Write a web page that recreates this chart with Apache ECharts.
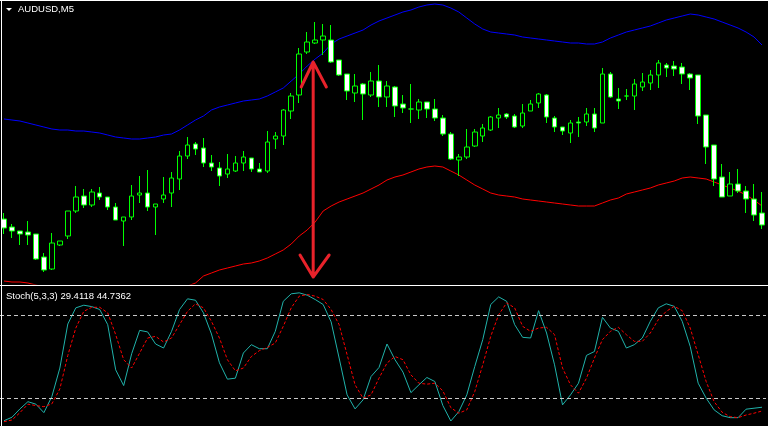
<!DOCTYPE html>
<html>
<head>
<meta charset="utf-8">
<script src="https://cdn.jsdelivr.net/npm/echarts@6/dist/echarts.min.js"></script>
<style>
html,body{margin:0;padding:0;background:#000;}
#c{width:768px;height:426px;}
</style>
</head>
<body>
<div id="c"></div>
<script>
// ---- data (price in points above the panel floor) ----
const categories = [];
for (let i = 0; i < 96; i++) categories.push('bar' + i);

const openV = [65,57,53,52,50,27,15,39,48,73, 88,79,91,87,77,63,67,89,91,77, 85,91,105,128,140,136,121,116,110,113,
  121,126,115,113,145,148,173,189,232,241, 244,244,224,210,191,200,189,203,187,197, 180,175,174,182,175,166,150,124,127,138,
  148,154,166,170,168,158,173,181,189,166, 157,151,162,162,170,161,210,185,188,188, 197,201,209,219,218,217,210,209,169,139,
  107,88,100,93,85,71];
const closeV = [56,53,50,49,25,14,41,43,73,87, 79,92,87,77,64,67,88,91,77,80, 89,106,128,139,135,121,117,108,115,121,
  127,115,112,142,148,174,188,230,242,244, 248,222,209,193,198,190,203,187,198,178, 176,175,182,175,166,150,125,127,137,152,
  156,167,169,167,157,171,180,190,167,157, 153,161,161,170,156,210,187,183,188,200, 202,209,221,216,215,210,206,168,137,105,
  87,100,93,85,69,59];
const lowV = [50,46,39,39,24,12,14,38,45,71, 76,77,84,74,64,38,64,81,73,49, 81,77,94,125,129,117,113,98,106,112,
  113,112,112,111,135,139,165,181,230,240, 229,221,208,184,182,164,187,177,177,167, 171,161,165,166,163,148,124,108,125,137,
  142,153,156,165,156,156,173,176,161,152, 149,141,147,158,152,161,186,175,184,174, 193,194,196,207,208,200,194,160,120,98,
  87,88,91,71,63,55];
const highV = [71,60,53,63,50,31,51,43,73,98, 95,95,97,87,81,67,99,108,114,80, 107,112,133,147,142,146,129,122,130,128,
  133,126,121,153,152,175,191,236,252,262, 260,259,224,210,210,201,212,219,203,198, 189,200,185,182,185,169,152,130,155,155,
  160,168,176,171,170,180,184,191,190,168, 157,164,167,176,176,216,212,196,195,205, 211,214,224,221,223,221,211,209,169,139,
  120,112,115,98,100,92];

const upperBand = [165,164,163,161,159,157,155,154,154,153, 153,152,151,149,147,146,145,145,146,147, 149,150,154,159,164,168,174,177,179,181,
  183,184,185,188,192,196,203,210,218,225, 231,240,245,248,251,254,259,263,266,269, 272,274,277,279,280,279,276,272,266,260,
  255,252,251,250,249,247,246,245,244,243, 242,241,241,240,240,242,246,249,252,254, 256,258,261,264,266,268,270,269,267,265,
  262,259,256,252,247,239];
const lowerBand = [3,2,2,1,-1,-3,-5,-7,-9,-11, -12,-13,-14,-14,-14,-13,-12,-11,-10,-9, -7,-5,-3,-2,1,8,11,14,16,18,
  20,21,23,26,30,34,40,48,54,62, 73,78,82,85,88,91,95,99,104,107, 109,112,115,117,118,117,113,109,104,99,
  95,91,89,88,87,85,84,83,82,81, 80,79,78,78,78,81,84,86,90,92, 94,96,99,101,103,106,107,106,105,102,
  99,96,93,89,84,78];

const stochMain = [3.8,6.3,12.3,17.5,15.7,9.6,21.2,41.7,73.4,85.0, 86.9,85.9,83.8,72.9,40.4,29.1,52.0,68.8,67.7,59.0,
  56.1,68.1,83.8,91.5,90.5,81.4,66.2,45.5,33.7,34.4, 52.5,58.5,55.6,55.6,68.1,89.7,95.1,95.8,94.1,91.0,
  87.4,74.9,48.9,22.4,12.3,18.8,35.6,42.1,59.0,47.7, 38.8,24.0,29.6,34.9,32.0,14.7,3.6,10.3,22.4,42.8,
  62.1,87.4,92.9,89.7,72.9,63.8,63.3,83.0,66.9,44.0, 15.2,22.4,30.8,50.8,53.6,78.2,70.5,68.1,56.1,58.5,
  63.3,75.3,85.0,87.9,86.1,75.3,57.3,30.8,20.0,11.6, 7.4,6.0,6.0,12.1,12.8,13.5];
const stochSignal = [3.1,4.3,9.6,15.7,14.7,13.9,15.9,26.7,50.8,70.5, 82.5,85.4,85.4,81.4,65.7,47.7,41.7,52.5,63.3,64.5,
  60.4,63.3,72.9,82.5,87.9,85.0,75.3,63.3,47.7,39.7, 41.7,50.0,54.2,56.5,59.7,71.7,85.0,93.4,94.6,93.4,
  91.0,83.8,72.9,51.3,29.6,20.0,22.4,34.4,45.3,50.0, 47.7,36.8,30.8,30.1,30.8,25.3,13.2,9.2,11.6,24.8,
  44.0,64.5,80.1,88.6,85.0,71.7,68.1,70.5,71.0,65.7, 41.7,29.6,23.6,34.4,48.9,62.1,68.1,71.0,65.7,60.9,
  60.9,66.9,76.5,82.5,86.1,83.0,70.5,51.3,32.0,17.5, 9.9,6.7,6.0,7.9,9.2,10.8];
const stochLevels = [80, 20];

// annotation arrow (bar index, price points); null = pen up
const arrowPath = [[38.75,222],[38.75,7],null,[37.25,197],[38.75,222],[40.4,197],null,[37.1,29],[38.75,7],[40.75,29]];

const titleMain = 'AUDUSD,M5';
const titleStoch = 'Stoch(5,3,3) 29.4118 44.7362';

// ---- chart ----
const chart = echarts.init(document.getElementById('c'), null, {renderer: 'canvas'});
const candleData = openV.map((o, i) => [o, closeV[i], lowV[i], highV[i]]);
const arrowData = arrowPath.map(p => p ? p : '-');

chart.setOption({
  backgroundColor: '#000',
  animation: false,
  grid: [
    {left: -2, right: 2, top: 0, height: 284},
    {left: -2, right: 2, top: 287, height: 139}
  ],
  xAxis: [
    {type: 'category', gridIndex: 0, data: categories, boundaryGap: true, show: false},
    {type: 'category', gridIndex: 1, data: categories, boundaryGap: true, show: false},
    {type: 'value', gridIndex: 0, min: -0.5, max: 95.5, show: false}
  ],
  yAxis: [
    {type: 'value', gridIndex: 0, min: 0, max: 284, show: false},
    {type: 'value', gridIndex: 1, min: 0, max: 100, show: false}
  ],
  series: [
    {type: 'line', xAxisIndex: 0, yAxisIndex: 0, data: upperBand, symbol: 'none',
      lineStyle: {color: '#0000ff', width: 1}, z: 1},
    {type: 'line', xAxisIndex: 0, yAxisIndex: 0, data: lowerBand, symbol: 'none',
      lineStyle: {color: '#ff0000', width: 1}, z: 1},
    {type: 'candlestick', xAxisIndex: 0, yAxisIndex: 0, data: candleData, barWidth: 5,
      itemStyle: {color: '#000000', color0: '#ffffff', borderColor: '#00ff00', borderColor0: '#00ff00', borderWidth: 1}, z: 2},
    {type: 'line', xAxisIndex: 2, yAxisIndex: 0, data: arrowData, symbol: 'none', connectNulls: false,
      lineStyle: {color: '#e8222a', width: 3, cap: 'round', join: 'round'}, z: 5},
    {type: 'line', xAxisIndex: 1, yAxisIndex: 1, data: stochMain, symbol: 'none',
      lineStyle: {color: '#20b2aa', width: 1}, z: 3,
      markLine: {silent: true, symbol: 'none', label: {show: false},
        lineStyle: {color: '#c8c8c8', type: [4, 3], width: 1},
        data: stochLevels.map(v => ({yAxis: v}))}},
    {type: 'line', xAxisIndex: 1, yAxisIndex: 1, data: stochSignal, symbol: 'none',
      lineStyle: {color: '#ff0000', width: 1, type: [3, 2]}, z: 3}
  ],
  graphic: [
    {type: 'line', shape: {x1: 0, y1: 0.5, x2: 768, y2: 0.5}, style: {stroke: '#ffffff', lineWidth: 1}, z: 10},
    {type: 'line', shape: {x1: 1.5, y1: 0, x2: 1.5, y2: 426}, style: {stroke: '#ffffff', lineWidth: 1}, z: 10},
    {type: 'line', shape: {x1: 0, y1: 285.5, x2: 768, y2: 285.5}, style: {stroke: '#ffffff', lineWidth: 1}, z: 10},
    {type: 'polygon', shape: {points: [[6, 8], [12, 8], [9, 11]]}, style: {fill: '#ffffff'}, z: 10},
    {type: 'text', left: 18, top: 4, style: {text: titleMain, fill: '#ffffff', font: '9.5px "Liberation Sans", Arial, sans-serif'}, z: 10},
    {type: 'text', left: 6, top: 291, style: {text: titleStoch, fill: '#ffffff', font: '9.5px "Liberation Sans", Arial, sans-serif'}, z: 10}
  ]
});
</script>
</body>
</html>
